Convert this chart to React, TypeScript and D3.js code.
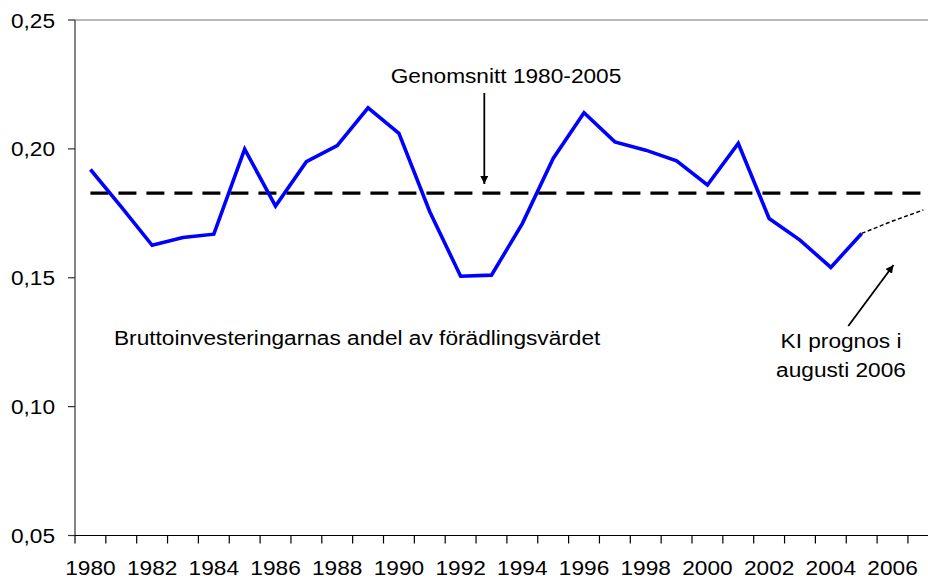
import React from 'react';
import * as d3 from 'd3';

// years on the category axis (2007 is partly cut off at the right edge)
const years = d3.range(1980, 2008);
const actualYears = d3.range(1980, 2006);
const actualValues = [
  0.192, 0.1775, 0.1626, 0.1656, 0.1669, 0.1999, 0.1778, 0.195, 0.2013, 0.2159,
  0.206, 0.1756, 0.1506, 0.151, 0.171, 0.1963, 0.214, 0.2027, 0.1995, 0.1954,
  0.186, 0.2021, 0.173, 0.1646, 0.154, 0.1672,
];
const forecastYears = [2005, 2006, 2007];
const forecastValues = [0.1672, 0.172, 0.1763];
const averageValue = 0.1828;
const yTicks = [0.05, 0.1, 0.15, 0.2, 0.25];
const xLabelYears = d3.range(1980, 2007, 2);

const W = 928;
const H = 580;
const font = '"Liberation Sans", Arial, sans-serif';
const sx = 1.08;

const x = d3
  .scaleBand<number>()
  .domain(years)
  .range([75, 75 + years.length * 30.85]);
const cx = (yr: number) => (x(yr) as number) + x.bandwidth() / 2;
const y = d3.scaleLinear().domain([0.05, 0.25]).range([535.5, 20]);

const fmt = (v: number) => v.toFixed(2).replace('.', ',');

const Label = ({ px, py, anchor = 'start', children }) => (
  <text
    transform={`translate(${px},${py}) scale(${sx},1)`}
    textAnchor={anchor}
    fontFamily={font}
    fontSize={21}
    fill="#000"
  >
    {children}
  </text>
);

export default function App() {
  const line = d3
    .line<[number, number]>()
    .x(d => cx(d[0]))
    .y(d => y(d[1]));

  const actual = line(actualYears.map((yr, i) => [yr, actualValues[i]]));
  const forecast = line(forecastYears.map((yr, i) => [yr, forecastValues[i]]));
  const avg = line([
    [years[0], averageValue],
    [years[years.length - 1], averageValue],
  ]);

  const x0 = x.range()[0];
  const x1 = x.range()[1];
  const yb = y.range()[0];
  const yt = y.range()[1];

  return (
    <svg
      width={W}
      height={H}
      style={{ position: 'absolute', left: 0, top: 0, background: '#fff' }}
    >
      <defs>
        <marker id="arrow" viewBox="0 0 10 10" refX="10" refY="5" markerWidth="8" markerHeight="8" markerUnits="userSpaceOnUse" orient="auto">
          <path d="M0,0 L10,5 L0,10 z" fill="#000" />
        </marker>
      </defs>

      {/* plot area top border */}
      <line x1={x0} x2={W} y1={yt} y2={yt} stroke="#a0a0a0" strokeWidth={1.3} />

      {/* y axis */}
      <line x1={x0} x2={x0} y1={yt} y2={yb} stroke="#333" strokeWidth={1.2} />
      {yTicks.map(t => (
        <g key={t}>
          <line x1={x0 - 7} x2={x0} y1={y(t)} y2={y(t)} stroke="#333" strokeWidth={1.2} />
          <Label px={55} py={y(t) + 7.5} anchor="end">{fmt(t)}</Label>
        </g>
      ))}

      {/* x axis */}
      <line x1={x0} x2={x1} y1={yb} y2={yb} stroke="#000" strokeWidth={1.2} />
      {years.map(yr => (
        <line
          key={yr}
          x1={(x(yr) as number) + x.bandwidth()}
          x2={(x(yr) as number) + x.bandwidth()}
          y1={yb}
          y2={yb + 8}
          stroke="#000"
          strokeWidth={1.2}
        />
      ))}
      <line x1={x0} x2={x0} y1={yb} y2={yb + 8} stroke="#000" strokeWidth={1.2} />
      {xLabelYears.map(yr => (
        <Label key={yr} px={cx(yr)} py={575} anchor="middle">{yr}</Label>
      ))}

      {/* average 1980-2005 */}
      <path d={avg} fill="none" stroke="#000" strokeWidth={3.2} strokeDasharray="18,10" />

      {/* series */}
      <path d={actual} fill="none" stroke="#0000ff" strokeWidth={3.6} strokeLinejoin="miter" />
      <path d={forecast} fill="none" stroke="#000" strokeWidth={1.5} strokeDasharray="4,2.5" />

      {/* annotations */}
      <Label px={506} py={82.5} anchor="middle">Genomsnitt 1980-2005</Label>
      <line x1={484.3} x2={484.3} y1={93} y2={184} stroke="#000" strokeWidth={1.8} markerEnd="url(#arrow)" />

      <Label px={114} py={345}>Bruttoinvesteringarnas andel av förädlingsvärdet</Label>

      <Label px={841} py={348.3} anchor="middle">KI prognos i</Label>
      <Label px={841} py={376.7} anchor="middle">augusti 2006</Label>
      <line x1={848.3} x2={893.5} y1={326} y2={265} stroke="#000" strokeWidth={1.8} markerEnd="url(#arrow)" />
    </svg>
  );
}
